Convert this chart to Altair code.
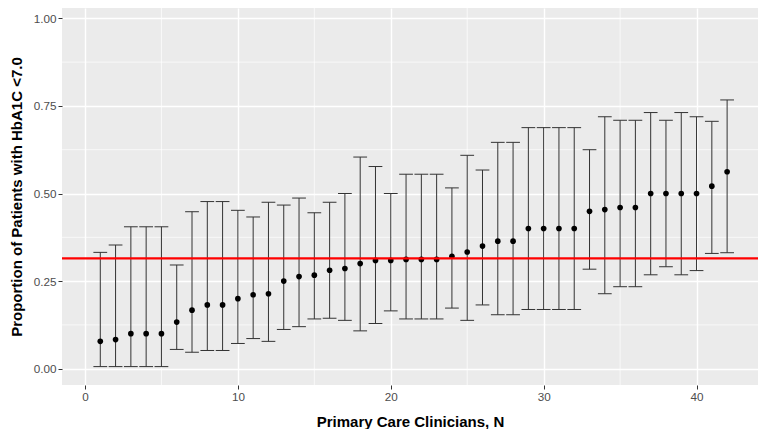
import altair as alt
import pandas as pd

# Clinician index
clinician = list(range(1, 43))
# Proportion of patients with HbA1C < 7.0 (point estimate)
proportion = [0.078, 0.083, 0.100, 0.100, 0.100, 0.133, 0.167, 0.182, 0.182, 0.200,
              0.211, 0.214, 0.250, 0.263, 0.267, 0.281, 0.286, 0.300, 0.309, 0.309,
              0.312, 0.312, 0.312, 0.321, 0.333, 0.350, 0.364, 0.364, 0.400, 0.400,
              0.400, 0.400, 0.449, 0.454, 0.460, 0.460, 0.500, 0.500, 0.500, 0.500,
              0.521, 0.562]
# Lower confidence limits
lower = [0.006, 0.006, 0.006, 0.006, 0.006, 0.055, 0.047, 0.052, 0.052, 0.072,
         0.086, 0.078, 0.112, 0.120, 0.142, 0.144, 0.138, 0.108, 0.129, 0.165,
         0.142, 0.142, 0.142, 0.173, 0.138, 0.182, 0.154, 0.154, 0.169, 0.169,
         0.169, 0.169, 0.284, 0.214, 0.234, 0.234, 0.268, 0.291, 0.268, 0.280,
         0.329, 0.331]
# Upper confidence limits
upper = [0.332, 0.353, 0.405, 0.405, 0.405, 0.296, 0.448, 0.477, 0.477, 0.452,
         0.433, 0.475, 0.467, 0.487, 0.445, 0.475, 0.500, 0.604, 0.577, 0.500,
         0.555, 0.555, 0.555, 0.516, 0.609, 0.567, 0.646, 0.646, 0.688, 0.688,
         0.688, 0.688, 0.625, 0.719, 0.709, 0.709, 0.731, 0.709, 0.731, 0.719,
         0.706, 0.767]
# Overall reference proportion
overall = [0.315]

x_ticks = [0, 10, 20, 30, 40]
y_ticks = [0.0, 0.25, 0.5, 0.75, 1.0]
x_minor = [5, 15, 25, 35]
y_minor = [0.125, 0.375, 0.625, 0.875]

df = pd.DataFrame({"n": clinician, "p": proportion, "lo": lower, "hi": upper})
ref = pd.DataFrame({"y": overall})

XDOM = [-1.504, 44.02]
YDOM = [-0.0465, 1.0294]
FONT = "Liberation Sans"

xs = alt.Scale(domain=XDOM, nice=False, zero=False)
ys = alt.Scale(domain=YDOM, nice=False, zero=False)

base = alt.Chart(df)

# minor grid lines
minor_x = alt.Chart(pd.DataFrame({"v": x_minor})).mark_rule(
    color="white", strokeWidth=0.7).encode(x=alt.X("v:Q", scale=xs))
minor_y = alt.Chart(pd.DataFrame({"v": y_minor})).mark_rule(
    color="white", strokeWidth=0.7).encode(y=alt.Y("v:Q", scale=ys))

bars = base.mark_rule(color="#333333", strokeWidth=1).encode(
    x=alt.X("n:Q", scale=xs,
            axis=alt.Axis(values=x_ticks, format="d",
                          title="Primary Care Clinicians, N")),
    y=alt.Y("lo:Q", scale=ys,
            axis=alt.Axis(values=y_ticks, format=".2f",
                          title="Proportion of Patients with HbA1C <7.0")),
    y2="hi:Q",
)

caps_lo = base.transform_calculate(a="datum.n - 0.45", b="datum.n + 0.45").mark_rule(
    color="#333333", strokeWidth=1).encode(
    x=alt.X("a:Q", scale=xs), x2="b:Q", y=alt.Y("lo:Q", scale=ys))
caps_hi = base.transform_calculate(a="datum.n - 0.45", b="datum.n + 0.45").mark_rule(
    color="#333333", strokeWidth=1).encode(
    x=alt.X("a:Q", scale=xs), x2="b:Q", y=alt.Y("hi:Q", scale=ys))

points = base.mark_circle(color="black", opacity=1, size=32).encode(
    x=alt.X("n:Q", scale=xs), y=alt.Y("p:Q", scale=ys))

hline = alt.Chart(ref).mark_rule(color="#FF0000", strokeWidth=2.4).encode(
    y=alt.Y("y:Q", scale=ys))

chart = alt.layer(minor_x, minor_y, bars, caps_lo, caps_hi, points, hline).properties(
    width=696, height=377,
    autosize=alt.AutoSizeParams(type="none"),
    padding={"left": 54, "top": 0, "right": 0, "bottom": 44},
).configure_view(
    fill="#EBEBEB", stroke=None
).configure_axis(
    grid=True, gridColor="white", gridWidth=1.4,
    domain=False,
    tickColor="#333333", tickSize=4, tickWidth=1,
    labelFont=FONT, labelFontSize=11.7, labelColor="#4D4D4D",
    titleFont=FONT, titleFontSize=15, titleFontWeight="bold", titleColor="black",
).configure_axisX(
    labelPadding=2, titlePadding=12,
).configure_axisY(
    labelPadding=2, titlePadding=9,
)

chart.save("out.html", embed_options={"renderer": "svg", "actions": False})
